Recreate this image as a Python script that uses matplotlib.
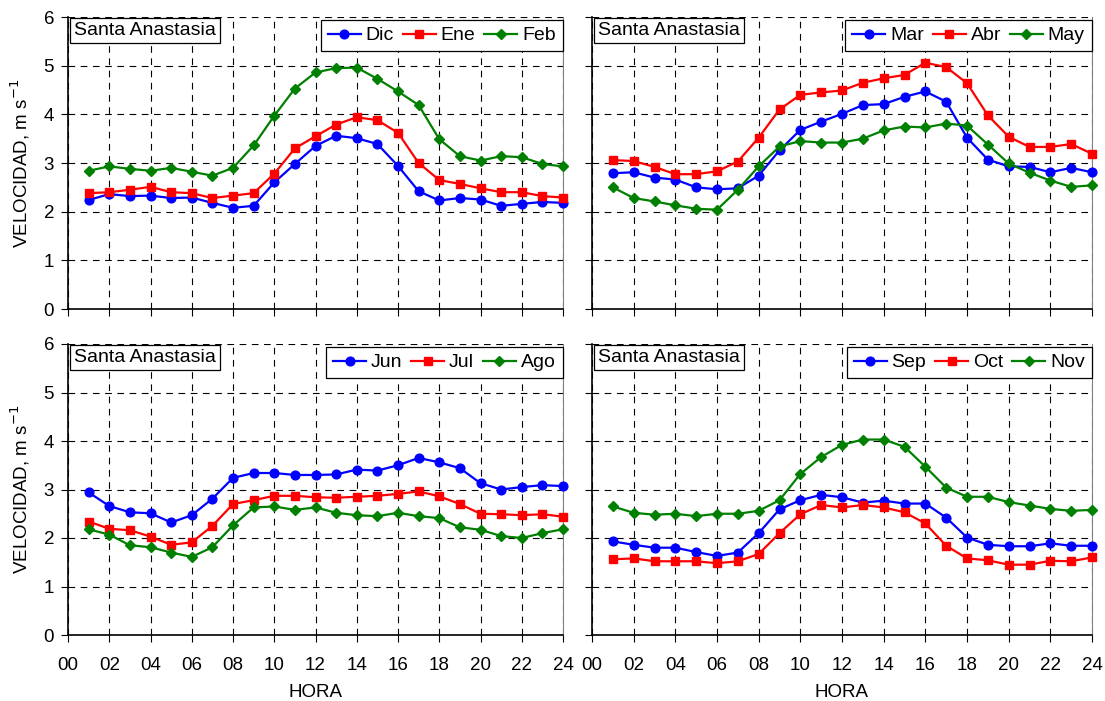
import numpy as np
import matplotlib
matplotlib.use("Agg")
import matplotlib.pyplot as plt

plt.rcParams["font.family"] = ["Liberation Sans", "DejaVu Sans"]

hours = np.arange(1, 25)

dic = [2.24, 2.36, 2.32, 2.33, 2.28, 2.29, 2.18, 2.08, 2.12, 2.60, 2.98, 3.35,
       3.56, 3.51, 3.39, 2.94, 2.42, 2.23, 2.28, 2.25, 2.12, 2.16, 2.20, 2.18]
ene = [2.38, 2.40, 2.45, 2.51, 2.40, 2.38, 2.28, 2.33, 2.38, 2.78, 3.30, 3.55,
       3.79, 3.94, 3.88, 3.62, 3.00, 2.65, 2.57, 2.48, 2.40, 2.40, 2.32, 2.29]
feb = [2.84, 2.93, 2.88, 2.84, 2.90, 2.82, 2.74, 2.90, 3.36, 3.97, 4.53, 4.86,
       4.95, 4.96, 4.73, 4.47, 4.19, 3.49, 3.14, 3.05, 3.14, 3.12, 2.98, 2.93]

mar = [2.79, 2.81, 2.70, 2.66, 2.50, 2.46, 2.48, 2.74, 3.26, 3.68, 3.85, 4.01,
       4.19, 4.21, 4.36, 4.47, 4.26, 3.52, 3.07, 2.93, 2.92, 2.81, 2.90, 2.81]
abr = [3.06, 3.04, 2.92, 2.77, 2.77, 2.83, 3.03, 3.52, 4.10, 4.40, 4.45, 4.49,
       4.65, 4.74, 4.81, 5.06, 4.97, 4.64, 3.98, 3.54, 3.33, 3.33, 3.39, 3.19]
may = [2.50, 2.28, 2.21, 2.13, 2.06, 2.04, 2.45, 2.93, 3.34, 3.45, 3.42, 3.42,
       3.50, 3.67, 3.75, 3.73, 3.81, 3.77, 3.38, 2.99, 2.80, 2.64, 2.51, 2.54]

jun = [2.94, 2.66, 2.53, 2.51, 2.32, 2.47, 2.81, 3.24, 3.34, 3.34, 3.30, 3.30,
       3.31, 3.41, 3.39, 3.50, 3.65, 3.56, 3.44, 3.13, 3.00, 3.05, 3.09, 3.07]
jul = [2.34, 2.19, 2.16, 2.03, 1.86, 1.91, 2.25, 2.70, 2.78, 2.87, 2.87, 2.84,
       2.83, 2.85, 2.87, 2.91, 2.96, 2.86, 2.70, 2.50, 2.49, 2.47, 2.49, 2.44]
ago = [2.18, 2.07, 1.85, 1.81, 1.70, 1.61, 1.81, 2.26, 2.63, 2.65, 2.58, 2.63,
       2.52, 2.47, 2.45, 2.52, 2.45, 2.41, 2.22, 2.17, 2.04, 2.00, 2.10, 2.18]

sep = [1.93, 1.86, 1.80, 1.80, 1.71, 1.63, 1.70, 2.10, 2.59, 2.78, 2.89, 2.84,
       2.73, 2.77, 2.71, 2.71, 2.42, 2.01, 1.86, 1.83, 1.83, 1.89, 1.84, 1.84]
octu = [1.56, 1.58, 1.52, 1.52, 1.52, 1.48, 1.52, 1.67, 2.10, 2.49, 2.68, 2.63,
        2.68, 2.63, 2.53, 2.30, 1.84, 1.58, 1.54, 1.45, 1.45, 1.53, 1.52, 1.60]
nov = [2.65, 2.52, 2.48, 2.50, 2.45, 2.50, 2.50, 2.56, 2.78, 3.32, 3.67, 3.92,
       4.03, 4.03, 3.88, 3.47, 3.04, 2.85, 2.85, 2.74, 2.67, 2.60, 2.56, 2.58]

panels = [
    (["Dic", "Ene", "Feb"], [dic, ene, feb]),
    (["Mar", "Abr", "May"], [mar, abr, may]),
    (["Jun", "Jul", "Ago"], [jun, jul, ago]),
    (["Sep", "Oct", "Nov"], [sep, octu, nov]),
]

xticks = np.arange(0, 25, 2)
xlabels = ["%02d" % h for h in xticks]

colors = ["#0000FF", "#FF0000", "#008000"]
markers = ["o", "s", "D"]
msizes = [6.3, 5.8, 4.8]

fig = plt.figure(figsize=(11.05, 7.01), dpi=100)
positions = [
    [68 / 1105, 1 - 309 / 701, 495 / 1105, 292 / 701],
    [592 / 1105, 1 - 309 / 701, 500 / 1105, 292 / 701],
    [68 / 1105, 1 - 635 / 701, 495 / 1105, 291 / 701],
    [592 / 1105, 1 - 635 / 701, 500 / 1105, 291 / 701],
]

for i, (names, series) in enumerate(panels):
    ax = fig.add_axes(positions[i])
    for name, vals, c, m, ms in zip(names, series, colors, markers, msizes):
        ax.plot(hours, vals, color=c, marker=m, markersize=ms, lw=1.6,
                label=name, clip_on=False, zorder=3)
    ax.set_xlim(0, 24)
    ax.set_ylim(0, 6)
    ax.set_xticks(xticks)
    ax.set_yticks(np.arange(0, 7, 1))
    ax.grid(True, color="black", linestyle=(0, (6, 5)), linewidth=0.8)
    ax.tick_params(direction="out", length=5, width=0.8, labelsize=13.5,
                   color="black", pad=5)
    ax.tick_params(axis="x", pad=11)
    ax.spines["top"].set_visible(False)
    ax.spines["right"].set_color("#808080")
    ax.spines["left"].set_linewidth(1.2)
    ax.spines["bottom"].set_linewidth(1.2)
    if i >= 2:
        ax.set_xticklabels(xlabels)
        ax.set_xlabel("HORA", fontsize=13.5, labelpad=7)
    else:
        ax.set_xticklabels([])
    if i % 2 == 0:
        ax.set_ylabel("VELOCIDAD, m s$^{-1}$", fontsize=13.5, labelpad=8)
    else:
        ax.set_yticklabels([])
    ax.text(0.012, 0.983, "Santa Anastasia", transform=ax.transAxes,
            fontsize=14, va="top", ha="left", zorder=5,
            bbox=dict(boxstyle="square,pad=0.2", fc="white", ec="black", lw=0.9))
    leg = ax.legend(loc="upper right", bbox_to_anchor=(0.999, 0.99), ncol=3,
                    fontsize=14, frameon=True, fancybox=False, borderaxespad=0,
                    handlelength=1.7, handletextpad=0.25, columnspacing=0.45,
                    borderpad=0.35)
    leg.get_frame().set_edgecolor("black")
    leg.get_frame().set_linewidth(0.9)
    leg.get_frame().set_alpha(1)

fig.savefig("out.png", dpi=100)
